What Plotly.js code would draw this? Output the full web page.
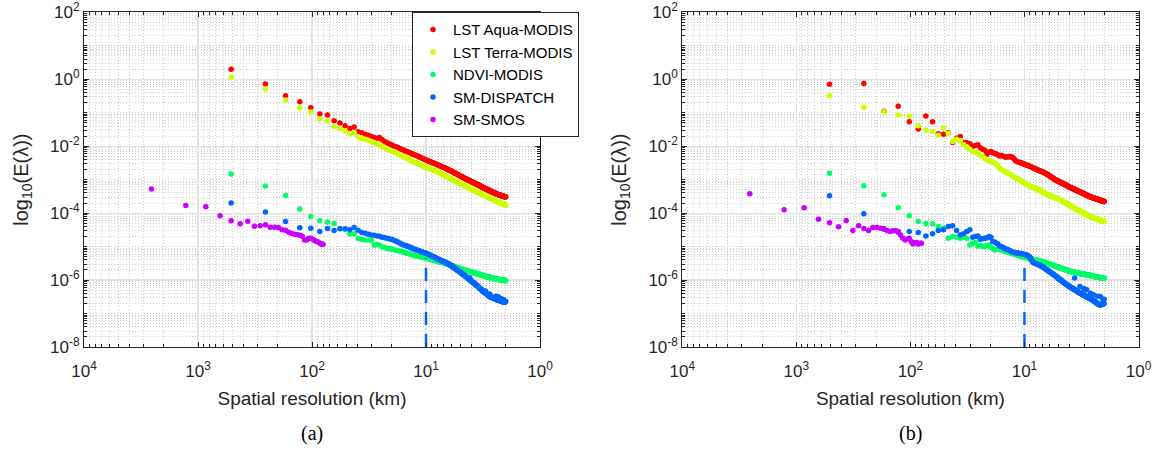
<!DOCTYPE html>
<html><head><meta charset="utf-8">
<script src="https://cdn.plot.ly/plotly-3.0.1.min.js"></script>
<style>html,body{margin:0;padding:0;background:#fff}#chart{width:1160px;height:450px}</style>
</head><body><div id="chart"></div>
<script>
// ---------------- DATA ----------------
const seriesNames = ['LST Aqua-MODIS', 'LST Terra-MODIS', 'NDVI-MODIS', 'SM-DISPATCH', 'SM-SMOS'];
const panelLabels = ['(a)', '(b)'];
const xTitle = 'Spatial resolution (km)';
const yTitle = 'log<sub>10</sub>(E(\u03bb))';
const xTickVals = [10000, 1000, 100, 10, 1];
const xTickText = ['10<sup>4</sup>', '10<sup>3</sup>', '10<sup>2</sup>', '10<sup>1</sup>', '10<sup>0</sup>'];
const yTickVals = [1e-8, 1e-6, 1e-4, 1e-2, 1, 100];
const yTickText = ['10<sup>-8</sup>', '10<sup>-6</sup>', '10<sup>-4</sup>', '10<sup>-2</sup>', '10<sup>0</sup>', '10<sup>2</sup>'];

// spectral grid: resolution = domain size / wavenumber
const modisDomainKm = 512;   // MODIS / DISPATCH scenes, wavenumbers 1..256
const modisWavenumbers = 256;
const smosDomainKm = 2560;   // SMOS scene, wavenumbers 1..32
const smosWavenumbers = 32;

// dashed marker at 10 km (top value of the dashed segment in each panel)
const thresholdKm = 10;
const thresholdTopA = 4.6e-6;
const thresholdTopB = 2.3e-6;
const thresholdBottom = 1e-8;

// log10 E(lambda), panel (a)
const aquaA = [
 0.30,-0.14,-0.49,-0.67,-0.85,-1.04,-1.07,-1.24,-1.31,-1.39,-1.47,-1.43,-1.57,-1.60,-1.64,-1.67,
 -1.71,-1.74,-1.77,-1.74,-1.80,-1.85,-1.89,-1.92,-1.95,-1.97,-2.00,-2.02,-2.04,-2.07,-2.09,-2.11,
 -2.13,-2.15,-2.16,-2.18,-2.20,-2.22,-2.23,-2.25,-2.26,-2.28,-2.29,-2.31,-2.32,-2.34,-2.35,-2.37,
 -2.38,-2.40,-2.41,-2.42,-2.43,-2.45,-2.46,-2.47,-2.48,-2.49,-2.50,-2.51,-2.52,-2.53,-2.54,-2.55,
 -2.56,-2.57,-2.58,-2.59,-2.60,-2.61,-2.62,-2.63,-2.63,-2.64,-2.65,-2.66,-2.67,-2.68,-2.69,-2.70,
 -2.71,-2.72,-2.73,-2.73,-2.74,-2.75,-2.76,-2.77,-2.78,-2.79,-2.80,-2.80,-2.81,-2.82,-2.83,-2.84,
 -2.85,-2.85,-2.86,-2.87,-2.88,-2.88,-2.89,-2.90,-2.91,-2.91,-2.92,-2.93,-2.94,-2.94,-2.95,-2.96,
 -2.97,-2.97,-2.98,-2.99,-2.99,-3.00,-3.00,-3.01,-3.02,-3.02,-3.03,-3.03,-3.04,-3.05,-3.05,-3.06,
 -3.07,-3.07,-3.08,-3.08,-3.09,-3.09,-3.10,-3.10,-3.11,-3.11,-3.12,-3.12,-3.13,-3.13,-3.14,-3.14,
 -3.15,-3.15,-3.16,-3.16,-3.17,-3.17,-3.18,-3.18,-3.19,-3.19,-3.20,-3.20,-3.21,-3.21,-3.22,-3.23,
 -3.23,-3.24,-3.24,-3.25,-3.25,-3.25,-3.26,-3.26,-3.27,-3.27,-3.27,-3.28,-3.28,-3.28,-3.29,-3.29,
 -3.30,-3.30,-3.30,-3.31,-3.31,-3.32,-3.32,-3.32,-3.33,-3.33,-3.34,-3.34,-3.34,-3.35,-3.35,-3.36,
 -3.36,-3.37,-3.37,-3.37,-3.38,-3.38,-3.38,-3.39,-3.39,-3.39,-3.39,-3.40,-3.40,-3.40,-3.41,-3.41,
 -3.41,-3.42,-3.42,-3.42,-3.43,-3.43,-3.43,-3.43,-3.44,-3.44,-3.44,-3.44,-3.45,-3.45,-3.45,-3.45,
 -3.45,-3.46,-3.46,-3.46,-3.46,-3.46,-3.47,-3.47,-3.47,-3.47,-3.48,-3.48,-3.48,-3.48,-3.48,-3.49,
 -3.49,-3.49,-3.49,-3.49,-3.50,-3.50,-3.50,-3.50,-3.50,-3.50,-3.51,-3.51,-3.51,-3.51,-3.51,-3.51];
const terraA = [
 0.06,-0.29,-0.62,-0.85,-0.98,-1.19,-1.25,-1.41,-1.47,-1.54,-1.62,-1.60,-1.72,-1.76,-1.79,-1.82,
 -1.86,-1.89,-1.93,-1.96,-2.00,-2.04,-2.08,-2.11,-2.13,-2.16,-2.18,-2.20,-2.23,-2.25,-2.28,-2.30,
 -2.32,-2.34,-2.36,-2.38,-2.41,-2.43,-2.45,-2.47,-2.48,-2.50,-2.51,-2.53,-2.54,-2.56,-2.57,-2.59,
 -2.60,-2.61,-2.62,-2.63,-2.65,-2.66,-2.67,-2.68,-2.69,-2.70,-2.71,-2.72,-2.73,-2.74,-2.75,-2.76,
 -2.77,-2.78,-2.79,-2.80,-2.81,-2.82,-2.83,-2.84,-2.86,-2.87,-2.88,-2.89,-2.90,-2.91,-2.92,-2.93,
 -2.94,-2.95,-2.96,-2.97,-2.97,-2.98,-2.99,-3.00,-3.01,-3.02,-3.03,-3.03,-3.04,-3.05,-3.06,-3.07,
 -3.08,-3.08,-3.09,-3.10,-3.10,-3.11,-3.12,-3.13,-3.13,-3.14,-3.15,-3.15,-3.16,-3.17,-3.17,-3.18,
 -3.19,-3.19,-3.20,-3.20,-3.21,-3.22,-3.22,-3.23,-3.24,-3.24,-3.25,-3.25,-3.26,-3.27,-3.27,-3.28,
 -3.29,-3.29,-3.30,-3.30,-3.31,-3.31,-3.32,-3.32,-3.33,-3.33,-3.34,-3.34,-3.35,-3.35,-3.36,-3.36,
 -3.37,-3.37,-3.38,-3.38,-3.39,-3.39,-3.40,-3.40,-3.41,-3.41,-3.42,-3.42,-3.43,-3.43,-3.44,-3.44,
 -3.44,-3.45,-3.45,-3.46,-3.46,-3.46,-3.47,-3.47,-3.48,-3.48,-3.48,-3.49,-3.49,-3.50,-3.50,-3.50,
 -3.51,-3.51,-3.52,-3.52,-3.52,-3.53,-3.53,-3.54,-3.54,-3.54,-3.55,-3.55,-3.56,-3.56,-3.56,-3.57,
 -3.57,-3.58,-3.58,-3.58,-3.59,-3.59,-3.59,-3.60,-3.60,-3.60,-3.61,-3.61,-3.61,-3.62,-3.62,-3.62,
 -3.63,-3.63,-3.63,-3.64,-3.64,-3.64,-3.65,-3.65,-3.65,-3.66,-3.66,-3.66,-3.67,-3.67,-3.67,-3.68,
 -3.68,-3.68,-3.69,-3.69,-3.69,-3.69,-3.70,-3.70,-3.70,-3.70,-3.71,-3.71,-3.71,-3.71,-3.72,-3.72,
 -3.72,-3.72,-3.73,-3.73,-3.73,-3.73,-3.74,-3.74,-3.74,-3.74,-3.75,-3.75,-3.75,-3.75,-3.76,-3.76];
const ndviA = [
 -2.83,-3.19,-3.47,-3.88,-4.10,-4.22,-4.27,-4.31,-4.46,-4.48,-4.62,-4.62,-4.76,-4.79,-4.80,-4.80,
 -4.81,-4.96,-4.93,-4.95,-5.01,-5.02,-5.05,-5.06,-5.07,-5.08,-5.10,-5.11,-5.12,-5.13,-5.15,-5.16,
 -5.17,-5.19,-5.20,-5.21,-5.22,-5.24,-5.25,-5.26,-5.27,-5.27,-5.28,-5.29,-5.30,-5.30,-5.31,-5.32,
 -5.33,-5.33,-5.34,-5.35,-5.35,-5.36,-5.37,-5.38,-5.39,-5.39,-5.40,-5.41,-5.41,-5.42,-5.43,-5.44,
 -5.44,-5.45,-5.46,-5.46,-5.47,-5.47,-5.48,-5.48,-5.49,-5.50,-5.50,-5.51,-5.51,-5.52,-5.52,-5.53,
 -5.54,-5.54,-5.55,-5.55,-5.56,-5.57,-5.57,-5.58,-5.59,-5.59,-5.60,-5.60,-5.61,-5.62,-5.62,-5.63,
 -5.63,-5.64,-5.64,-5.65,-5.65,-5.66,-5.66,-5.66,-5.67,-5.67,-5.68,-5.68,-5.69,-5.69,-5.69,-5.70,
 -5.70,-5.71,-5.71,-5.72,-5.72,-5.72,-5.73,-5.73,-5.73,-5.74,-5.74,-5.74,-5.75,-5.75,-5.75,-5.76,
 -5.76,-5.77,-5.77,-5.77,-5.78,-5.78,-5.78,-5.78,-5.79,-5.79,-5.79,-5.80,-5.80,-5.80,-5.81,-5.81,
 -5.81,-5.82,-5.82,-5.82,-5.83,-5.83,-5.83,-5.83,-5.84,-5.84,-5.84,-5.85,-5.85,-5.85,-5.86,-5.86,
 -5.86,-5.86,-5.87,-5.87,-5.87,-5.87,-5.88,-5.88,-5.88,-5.88,-5.89,-5.89,-5.89,-5.89,-5.90,-5.90,
 -5.90,-5.90,-5.90,-5.91,-5.91,-5.91,-5.91,-5.91,-5.92,-5.92,-5.92,-5.92,-5.92,-5.93,-5.93,-5.93,
 -5.93,-5.93,-5.93,-5.94,-5.94,-5.94,-5.94,-5.94,-5.95,-5.95,-5.95,-5.95,-5.95,-5.95,-5.96,-5.96,
 -5.96,-5.96,-5.96,-5.96,-5.97,-5.97,-5.97,-5.97,-5.97,-5.97,-5.97,-5.98,-5.98,-5.98,-5.98,-5.98,
 -5.98,-5.98,-5.98,-5.98,-5.98,-5.99,-5.99,-5.99,-5.99,-5.99,-5.99,-5.99,-5.99,-5.99,-6.00,-6.00,
 -6.00,-6.00,-6.00,-6.00,-6.00,-6.00,-6.00,-6.01,-6.01,-6.01,-6.01,-6.01,-6.01,-6.01,-6.01,-6.01];
const dispatchA = [
 -3.70,-3.97,-4.25,-4.44,-4.45,-4.55,-4.46,-4.52,-4.47,-4.47,-4.50,-4.43,-4.51,-4.58,-4.60,-4.63,
 -4.65,-4.66,-4.68,-4.69,-4.72,-4.73,-4.75,-4.76,-4.78,-4.79,-4.82,-4.84,-4.86,-4.89,-4.92,-4.94,
 -4.96,-4.97,-4.99,-5.00,-5.02,-5.04,-5.05,-5.07,-5.08,-5.10,-5.11,-5.12,-5.13,-5.15,-5.16,-5.17,
 -5.18,-5.19,-5.20,-5.21,-5.23,-5.24,-5.25,-5.26,-5.27,-5.29,-5.30,-5.31,-5.32,-5.34,-5.35,-5.36,
 -5.37,-5.38,-5.39,-5.40,-5.41,-5.42,-5.43,-5.44,-5.44,-5.45,-5.46,-5.47,-5.48,-5.49,-5.50,-5.51,
 -5.52,-5.53,-5.55,-5.56,-5.57,-5.58,-5.59,-5.61,-5.62,-5.63,-5.64,-5.65,-5.67,-5.68,-5.69,-5.70,
 -5.71,-5.72,-5.73,-5.74,-5.75,-5.76,-5.77,-5.78,-5.80,-5.81,-5.82,-5.83,-5.84,-5.85,-5.86,-5.87,
 -5.88,-5.89,-5.90,-5.91,-5.92,-5.93,-5.94,-5.95,-5.96,-5.97,-5.98,-5.93,-6.00,-6.01,-6.02,-6.03,
 -6.04,-6.05,-6.06,-6.07,-6.08,-6.08,-6.09,-6.10,-6.11,-6.12,-6.13,-6.14,-6.15,-6.16,-6.17,-6.17,
 -6.18,-6.19,-6.20,-6.21,-6.22,-6.23,-6.24,-6.25,-6.26,-6.26,-6.27,-6.28,-6.29,-6.30,-6.31,-6.32,
 -6.33,-6.33,-6.34,-6.35,-6.35,-6.36,-6.37,-6.37,-6.38,-6.33,-6.39,-6.40,-6.41,-6.41,-6.42,-6.43,
 -6.43,-6.44,-6.45,-6.45,-6.46,-6.47,-6.47,-6.48,-6.42,-6.49,-6.50,-6.50,-6.51,-6.51,-6.51,-6.51,
 -6.51,-6.52,-6.52,-6.52,-6.53,-6.53,-6.53,-6.54,-6.54,-6.54,-6.55,-6.55,-6.55,-6.56,-6.56,-6.56,
 -6.57,-6.48,-6.57,-6.58,-6.58,-6.58,-6.59,-6.59,-6.59,-6.60,-6.60,-6.50,-6.60,-6.60,-6.60,-6.60,
 -6.61,-6.61,-6.61,-6.61,-6.62,-6.62,-6.62,-6.55,-6.63,-6.63,-6.63,-6.63,-6.64,-6.64,-6.64,-6.64,
 -6.65,-6.65,-6.65,-6.65,-6.58,-6.66,-6.66,-6.66,-6.66,-6.66,-6.65,-6.65,-6.65,-6.64,-6.64,-6.64];
const smosA = [
 -3.28,-3.77,-3.81,-4.08,-4.23,-4.32,-4.24,-4.39,-4.38,-4.35,-4.42,-4.42,-4.43,-4.50,-4.51,-4.57,
 -4.61,-4.63,-4.64,-4.66,-4.69,-4.80,-4.80,-4.75,-4.75,-4.78,-4.82,-4.85,-4.86,-4.90,-4.93,-4.93];

// log10 E(lambda), panel (b)
const aquaB = [
 -0.15,-0.13,-0.96,-0.81,-1.27,-1.49,-1.10,-1.27,-1.63,-1.64,-1.60,-1.89,-1.76,-1.71,-1.89,-1.90,
 -1.93,-2.01,-1.98,-1.96,-2.05,-2.09,-2.12,-2.24,-2.18,-2.16,-2.20,-2.21,-2.23,-2.26,-2.29,-2.28,
 -2.29,-2.31,-2.33,-2.32,-2.31,-2.32,-2.31,-2.33,-2.36,-2.40,-2.44,-2.46,-2.47,-2.48,-2.49,-2.50,
 -2.51,-2.52,-2.54,-2.55,-2.56,-2.57,-2.58,-2.59,-2.60,-2.61,-2.63,-2.64,-2.65,-2.66,-2.67,-2.68,
 -2.69,-2.70,-2.71,-2.72,-2.73,-2.74,-2.75,-2.76,-2.76,-2.77,-2.78,-2.79,-2.80,-2.81,-2.82,-2.83,
 -2.84,-2.85,-2.86,-2.87,-2.89,-2.90,-2.91,-2.92,-2.93,-2.94,-2.95,-2.96,-2.98,-2.99,-3.00,-3.01,
 -3.02,-3.02,-3.03,-3.04,-3.04,-3.05,-3.06,-3.07,-3.07,-3.08,-3.09,-3.09,-3.10,-3.11,-3.11,-3.12,
 -3.13,-3.13,-3.14,-3.15,-3.15,-3.16,-3.17,-3.17,-3.18,-3.19,-3.20,-3.20,-3.21,-3.22,-3.22,-3.23,
 -3.23,-3.24,-3.24,-3.25,-3.25,-3.26,-3.26,-3.27,-3.27,-3.28,-3.28,-3.29,-3.29,-3.30,-3.30,-3.31,
 -3.31,-3.32,-3.32,-3.33,-3.33,-3.34,-3.34,-3.35,-3.35,-3.35,-3.36,-3.36,-3.37,-3.37,-3.38,-3.38,
 -3.38,-3.39,-3.39,-3.40,-3.40,-3.40,-3.41,-3.41,-3.42,-3.42,-3.42,-3.43,-3.43,-3.44,-3.44,-3.44,
 -3.45,-3.45,-3.46,-3.46,-3.46,-3.47,-3.47,-3.48,-3.48,-3.48,-3.49,-3.49,-3.50,-3.50,-3.50,-3.51,
 -3.51,-3.51,-3.52,-3.52,-3.52,-3.52,-3.53,-3.53,-3.53,-3.53,-3.54,-3.54,-3.54,-3.54,-3.55,-3.55,
 -3.55,-3.55,-3.56,-3.56,-3.56,-3.56,-3.56,-3.57,-3.57,-3.57,-3.57,-3.57,-3.58,-3.58,-3.58,-3.58,
 -3.58,-3.59,-3.59,-3.59,-3.59,-3.60,-3.60,-3.60,-3.60,-3.61,-3.61,-3.61,-3.61,-3.62,-3.62,-3.62,
 -3.62,-3.62,-3.63,-3.63,-3.63,-3.63,-3.63,-3.64,-3.64,-3.64,-3.64,-3.64,-3.65,-3.65,-3.65,-3.65];
const terraB = [
 -0.49,-0.84,-0.97,-1.07,-1.10,-1.39,-1.52,-1.56,-1.67,-1.46,-1.61,-1.86,-1.79,-1.83,-1.96,-2.02,
 -2.09,-2.16,-2.18,-2.21,-2.27,-2.31,-2.37,-2.41,-2.43,-2.46,-2.48,-2.50,-2.53,-2.60,-2.66,-2.70,
 -2.72,-2.75,-2.77,-2.79,-2.81,-2.82,-2.85,-2.88,-2.91,-2.93,-2.95,-2.96,-2.98,-3.00,-3.02,-3.04,
 -3.06,-3.08,-3.10,-3.12,-3.14,-3.15,-3.17,-3.18,-3.19,-3.20,-3.21,-3.22,-3.23,-3.24,-3.24,-3.25,
 -3.26,-3.27,-3.29,-3.30,-3.31,-3.32,-3.33,-3.35,-3.36,-3.37,-3.38,-3.39,-3.40,-3.42,-3.43,-3.44,
 -3.45,-3.45,-3.46,-3.46,-3.47,-3.48,-3.48,-3.49,-3.50,-3.50,-3.51,-3.52,-3.52,-3.53,-3.53,-3.54,
 -3.55,-3.55,-3.56,-3.57,-3.57,-3.58,-3.59,-3.60,-3.60,-3.61,-3.62,-3.62,-3.63,-3.64,-3.64,-3.65,
 -3.66,-3.67,-3.67,-3.68,-3.69,-3.70,-3.70,-3.71,-3.72,-3.73,-3.73,-3.74,-3.75,-3.76,-3.76,-3.77,
 -3.78,-3.78,-3.79,-3.79,-3.80,-3.81,-3.81,-3.82,-3.83,-3.83,-3.84,-3.85,-3.85,-3.86,-3.87,-3.87,
 -3.88,-3.89,-3.89,-3.90,-3.90,-3.91,-3.92,-3.92,-3.93,-3.93,-3.94,-3.94,-3.95,-3.95,-3.96,-3.96,
 -3.96,-3.97,-3.97,-3.98,-3.98,-3.99,-3.99,-3.99,-4.00,-4.00,-4.01,-4.01,-4.02,-4.02,-4.03,-4.03,
 -4.03,-4.04,-4.04,-4.05,-4.05,-4.06,-4.06,-4.07,-4.07,-4.07,-4.08,-4.08,-4.09,-4.09,-4.10,-4.10,
 -4.10,-4.11,-4.11,-4.11,-4.11,-4.12,-4.12,-4.12,-4.12,-4.13,-4.13,-4.13,-4.13,-4.14,-4.14,-4.14,
 -4.14,-4.15,-4.15,-4.15,-4.15,-4.16,-4.16,-4.16,-4.16,-4.17,-4.17,-4.17,-4.17,-4.18,-4.18,-4.18,
 -4.18,-4.19,-4.19,-4.19,-4.19,-4.20,-4.20,-4.20,-4.20,-4.21,-4.21,-4.21,-4.21,-4.22,-4.22,-4.22,
 -4.22,-4.22,-4.23,-4.23,-4.23,-4.23,-4.23,-4.24,-4.24,-4.24,-4.24,-4.24,-4.25,-4.25,-4.25,-4.25];
const ndviB = [
 -2.81,-3.18,-3.45,-3.84,-4.08,-4.25,-4.31,-4.32,-4.40,-4.45,-4.75,-4.70,-4.72,-4.75,-4.72,-4.75,
 -4.95,-4.90,-4.88,-4.98,-4.96,-5.00,-5.00,-4.97,-4.95,-5.02,-5.06,-5.10,-5.09,-5.08,-5.09,-5.10,
 -5.11,-5.13,-5.15,-5.16,-5.17,-5.19,-5.20,-5.21,-5.22,-5.23,-5.24,-5.25,-5.26,-5.27,-5.28,-5.29,
 -5.30,-5.31,-5.31,-5.32,-5.33,-5.34,-5.35,-5.36,-5.36,-5.37,-5.37,-5.38,-5.38,-5.38,-5.39,-5.39,
 -5.40,-5.41,-5.41,-5.42,-5.42,-5.43,-5.44,-5.44,-5.45,-5.46,-5.46,-5.47,-5.47,-5.48,-5.48,-5.49,
 -5.50,-5.50,-5.51,-5.51,-5.52,-5.53,-5.53,-5.54,-5.55,-5.55,-5.56,-5.56,-5.57,-5.58,-5.58,-5.59,
 -5.59,-5.60,-5.60,-5.61,-5.61,-5.62,-5.62,-5.63,-5.63,-5.64,-5.64,-5.65,-5.65,-5.66,-5.66,-5.67,
 -5.67,-5.68,-5.68,-5.69,-5.69,-5.70,-5.70,-5.70,-5.71,-5.71,-5.72,-5.72,-5.73,-5.73,-5.74,-5.74,
 -5.74,-5.74,-5.75,-5.75,-5.75,-5.75,-5.76,-5.76,-5.76,-5.76,-5.77,-5.77,-5.77,-5.77,-5.77,-5.78,
 -5.78,-5.78,-5.78,-5.79,-5.79,-5.79,-5.79,-5.79,-5.80,-5.80,-5.80,-5.80,-5.80,-5.81,-5.81,-5.81,
 -5.81,-5.81,-5.81,-5.82,-5.82,-5.82,-5.82,-5.82,-5.83,-5.83,-5.83,-5.83,-5.83,-5.83,-5.84,-5.84,
 -5.84,-5.84,-5.84,-5.84,-5.85,-5.85,-5.85,-5.85,-5.85,-5.85,-5.85,-5.86,-5.86,-5.86,-5.86,-5.86,
 -5.86,-5.86,-5.87,-5.87,-5.87,-5.87,-5.87,-5.87,-5.88,-5.88,-5.88,-5.88,-5.88,-5.88,-5.89,-5.89,
 -5.89,-5.89,-5.89,-5.89,-5.90,-5.90,-5.90,-5.90,-5.90,-5.90,-5.90,-5.91,-5.91,-5.91,-5.91,-5.91,
 -5.91,-5.91,-5.91,-5.91,-5.92,-5.92,-5.92,-5.92,-5.92,-5.92,-5.92,-5.92,-5.93,-5.93,-5.93,-5.93,
 -5.93,-5.93,-5.93,-5.93,-5.93,-5.94,-5.94,-5.94,-5.94,-5.94,-5.94,-5.94,-5.94,-5.94,-5.94,-5.94];
const dispatchB = [
 -3.48,-4.02,-4.47,-4.55,-4.55,-4.58,-4.68,-4.62,-4.52,-4.50,-4.40,-4.38,-4.52,-4.65,-4.62,-4.55,
 -4.50,-4.72,-4.70,-4.68,-4.78,-4.76,-4.75,-4.74,-4.70,-4.72,-4.85,-4.86,-4.90,-4.92,-4.98,-5.00,
 -5.02,-5.04,-5.07,-5.08,-5.10,-5.12,-5.14,-5.16,-5.17,-5.18,-5.19,-5.19,-5.20,-5.20,-5.21,-5.21,
 -5.22,-5.23,-5.24,-5.24,-5.25,-5.26,-5.27,-5.29,-5.31,-5.35,-5.40,-5.44,-5.47,-5.49,-5.50,-5.50,
 -5.51,-5.52,-5.53,-5.54,-5.55,-5.56,-5.57,-5.58,-5.60,-5.61,-5.62,-5.63,-5.65,-5.66,-5.68,-5.69,
 -5.70,-5.71,-5.73,-5.74,-5.75,-5.76,-5.77,-5.79,-5.80,-5.81,-5.82,-5.83,-5.85,-5.86,-5.87,-5.88,
 -5.89,-5.90,-5.91,-5.93,-5.94,-5.95,-5.96,-5.97,-5.98,-5.99,-6.00,-6.01,-6.03,-6.04,-6.05,-6.06,
 -6.07,-6.08,-6.09,-6.10,-6.11,-6.12,-6.13,-6.13,-6.14,-6.15,-6.16,-6.17,-6.18,-6.19,-6.19,-6.20,
 -6.21,-6.21,-6.22,-6.23,-6.23,-6.24,-6.25,-6.25,-6.26,-6.27,-6.27,-6.28,-5.94,-6.29,-6.30,-6.31,
 -6.31,-6.32,-6.33,-6.33,-6.34,-6.35,-6.35,-6.36,-6.37,-6.37,-6.38,-6.39,-6.19,-6.40,-6.40,-6.40,
 -6.40,-6.41,-6.41,-6.42,-6.42,-6.43,-6.43,-6.44,-6.44,-6.25,-6.45,-6.46,-6.46,-6.47,-6.47,-6.48,
 -6.48,-6.49,-6.49,-6.29,-6.50,-6.51,-6.51,-6.52,-6.52,-6.53,-6.53,-6.53,-6.54,-6.54,-6.54,-6.54,
 -6.55,-6.55,-6.40,-6.56,-6.57,-6.57,-6.58,-6.58,-6.59,-6.59,-6.60,-6.60,-6.61,-6.44,-6.62,-6.62,
 -6.63,-6.63,-6.64,-6.64,-6.65,-6.65,-6.66,-6.66,-6.67,-6.67,-6.68,-6.68,-6.69,-6.69,-6.70,-6.70,
 -6.48,-6.71,-6.71,-6.72,-6.72,-6.73,-6.73,-6.74,-6.74,-6.74,-6.74,-6.49,-6.74,-6.74,-6.74,-6.74,
 -6.73,-6.73,-6.73,-6.72,-6.72,-6.72,-6.72,-6.71,-6.71,-6.57,-6.71,-6.70,-6.70,-6.70,-6.70,-6.57];
const smosB = [
 -3.42,-3.90,-3.84,-4.18,-4.29,-4.41,-4.22,-4.52,-4.38,-4.46,-4.52,-4.43,-4.43,-4.45,-4.48,-4.52,
 -4.55,-4.53,-4.53,-4.57,-4.65,-4.75,-4.80,-4.77,-4.75,-4.85,-4.92,-4.88,-4.88,-4.92,-4.90,-4.90];

// ---------------- STYLE ----------------
const seriesColors = ['#ff0000', '#ccff00', '#00ff66', '#0066ff', '#cc00ff'];
const ink = '#262626';

function resolutionGrid(domainKm, n) {
  const out = [];
  for (let k = 1; k <= n; k++) out.push(domainKm / k);
  return out;
}
const toLinear = arr => arr.map(v => Math.pow(10, v));

const xModis = resolutionGrid(modisDomainKm, modisWavenumbers);
const xSmos = resolutionGrid(smosDomainKm, smosWavenumbers);

function markers(x, ylog, idx, xa, ya, showlegend) {
  return {
    type: 'scatter', mode: 'markers', x: x, y: toLinear(ylog),
    name: seriesNames[idx], legendgroup: seriesNames[idx], showlegend: showlegend,
    xaxis: xa, yaxis: ya, hoverinfo: 'skip', cliponaxis: true,
    marker: {color: seriesColors[idx], size: 5.5, line: {width: 0}}
  };
}
function threshold(top, xa, ya) {
  return {
    type: 'scatter', mode: 'lines', x: [thresholdKm, thresholdKm], y: [thresholdBottom, top],
    xaxis: xa, yaxis: ya, showlegend: false, hoverinfo: 'skip',
    line: {color: seriesColors[3], width: 2.5, dash: '13px,9px'}
  };
}

const panelA = [aquaA, terraA, ndviA, dispatchA];
const panelB = [aquaB, terraB, ndviB, dispatchB];
const traces = [];
panelA.forEach((s, i) => traces.push(markers(xModis, s, i, 'x', 'y', true)));
traces.push(markers(xSmos, smosA, 4, 'x', 'y', true));
traces.push(threshold(thresholdTopA, 'x', 'y'));
panelB.forEach((s, i) => traces.push(markers(xModis, s, i, 'x2', 'y2', false)));
traces.push(markers(xSmos, smosB, 4, 'x2', 'y2', false));
traces.push(threshold(thresholdTopB, 'x2', 'y2'));

const minorCfg = {
  tickmode: 'linear', dtick: 'D1', ticks: 'inside', ticklen: 3, tickcolor: ink, tickwidth: 1,
  showgrid: true, gridcolor: '#cfcfcf', griddash: '1px,2px', gridwidth: 1
};
function xAxis(domain, anchor) {
  return {
    domain: domain, anchor: anchor, type: 'log', range: [4, 0],
    tickmode: 'array', tickvals: xTickVals, ticktext: xTickText,
    ticks: 'inside', ticklen: 5, tickwidth: 1, tickcolor: ink,
    showline: true, linecolor: ink, linewidth: 1, mirror: 'allticks',
    showgrid: true, gridcolor: '#e3e3e3', gridwidth: 1.2, zeroline: false,
    minor: minorCfg, tickfont: {size: 17, color: ink}, ticklabelstandoff: 9,
    title: {text: xTitle, font: {size: 19, color: ink}, standoff: 11},
    automargin: false, fixedrange: true
  };
}
function yAxis(domain, anchor) {
  return {
    domain: domain, anchor: anchor, type: 'log', range: [-8, 2],
    tickmode: 'array', tickvals: yTickVals, ticktext: yTickText,
    ticks: 'inside', ticklen: 5, tickwidth: 1, tickcolor: ink,
    showline: true, linecolor: ink, linewidth: 1, mirror: 'allticks',
    showgrid: true, gridcolor: '#e3e3e3', gridwidth: 1.2, zeroline: false,
    minor: minorCfg, tickfont: {size: 17, color: ink},
    title: {text: yTitle, font: {size: 20, color: ink}, standoff: 16},
    automargin: false, fixedrange: true
  };
}

const W = 1160, H = 450;
const yDom = [1 - 347 / H, 1 - 12.3 / H];
const layout = {
  width: W, height: H, margin: {l: 0, r: 0, t: 0, b: 0, pad: 0},
  paper_bgcolor: '#ffffff', plot_bgcolor: '#ffffff',
  font: {family: 'Liberation Sans, Arial, Helvetica, sans-serif', color: ink, size: 16},
  xaxis: xAxis([84 / W, 540 / W], 'y'),
  yaxis: yAxis(yDom, 'x'),
  xaxis2: xAxis([682.3 / W, 1138.5 / W], 'y2'),
  yaxis2: yAxis(yDom, 'x2'),
  showlegend: true,
  legend: {
    x: 412 / W, y: 1 - 12.3 / H, xanchor: 'left', yanchor: 'top',
    bgcolor: '#ffffff', bordercolor: ink, borderwidth: 1,
    font: {size: 15, color: '#000000'}, tracegroupgap: 0, itemsizing: 'trace', itemwidth: 30
  },
  annotations: [
    {xref: 'x domain', yref: 'paper', x: 0.5, y: 1 - 433 / H, text: panelLabels[0], showarrow: false,
     xanchor: 'center', yanchor: 'middle', font: {family: 'Liberation Serif, Times New Roman, serif', size: 20, color: '#000'}},
    {xref: 'x2 domain', yref: 'paper', x: 0.5, y: 1 - 433 / H, text: panelLabels[1], showarrow: false,
     xanchor: 'center', yanchor: 'middle', font: {family: 'Liberation Serif, Times New Roman, serif', size: 20, color: '#000'}}
  ]
};

Plotly.newPlot('chart', traces, layout, {staticPlot: true, displayModeBar: false});
</script>
</body></html>
